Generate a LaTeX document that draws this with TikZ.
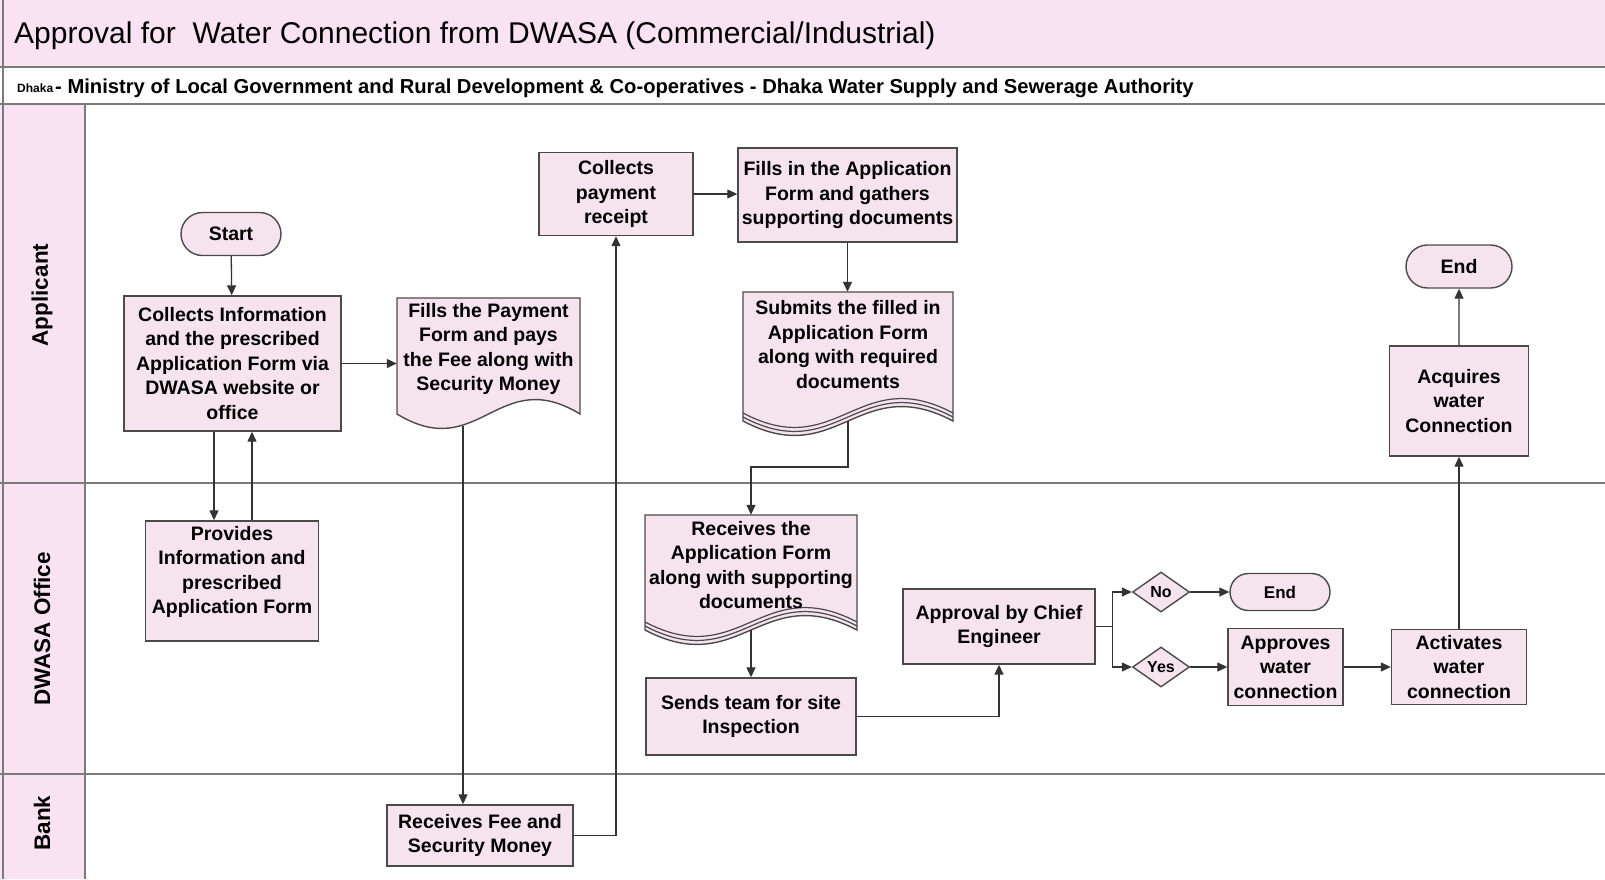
\documentclass[tikz,border=0pt]{standalone}
\usepackage{fontspec}
\setmainfont{Liberation Sans}
\usetikzlibrary{shapes.geometric,shapes.misc,arrows.meta,calc}
\definecolor{bandpink}{HTML}{F9E2F1}
\definecolor{boxpink}{HTML}{F5E4EE}
\definecolor{edgegray}{HTML}{4A4A4A}
\definecolor{lanegray}{HTML}{7A7A7A}
\definecolor{conngray}{HTML}{333333}
\begin{document}
\begin{tikzpicture}[x=1pt,y=-1pt,
  box/.style={draw=edgegray, line width=1.4pt, fill=boxpink, align=center, inner sep=0pt,
    font=\fontsize{19.5}{24.5}\selectfont\bfseries},
  term/.style={box, rounded rectangle},
  dec/.style={box, diamond, font=\fontsize{16}{18}\selectfont\bfseries},
  docshape/.style={draw=edgegray, line width=1.4pt, fill=boxpink},
  docwave/.style={draw=edgegray, line width=1.2pt},
  doctext/.style={align=center, inner sep=0pt, font=\fontsize{19.5}{24.5}\selectfont\bfseries},
  lanelabel/.style={rotate=90, font=\fontsize{22.5}{26}\selectfont\bfseries},
  laneline/.style={draw=lanegray, line width=2pt},
  conn/.style={draw=conngray, line width=1.3pt, -{Triangle[length=10pt,width=9pt]}},
]
\useasboundingbox (0,0) rectangle (1605,879);
% bands
\fill[bandpink] (0,0) rectangle (1605,67);
\fill[bandpink] (0,104) rectangle (85,879);
\draw[laneline] (0,67) -- (1605,67);
\draw[laneline] (0,104) -- (1605,104);
\draw[laneline] (0,483) -- (1605,483);
\draw[laneline] (0,774) -- (1605,774);
\draw[laneline] (85,104) -- (85,879);
\draw[laneline] (3,0) -- (3,879);
% titles
\node[anchor=base west, inner sep=0pt, font=\fontsize{30}{32}\selectfont] (title) at (14,43)
  {Approval for\ \ Water Connection from DWASA (Commercial/Industrial)};
\node[anchor=base west, inner sep=0pt, font=\fontsize{12}{13}\selectfont\bfseries] (dhaka) at (17,92) {Dhaka};
\node[anchor=base west, inner sep=0pt, font=\fontsize{20.2}{22}\selectfont\bfseries] (org) at (55,93)
  {- Ministry of Local Government and Rural Development \& Co-operatives - Dhaka Water Supply and Sewerage Authority};
% lane labels
\node[lanelabel] (lapp) at (42,295) {Applicant};
\node[lanelabel] (ldw) at (42,629) {DWASA Office};
\node[lanelabel] (lbank) at (42,823) {Bank};
% document shapes
\filldraw[docshape] (397,298) -- (580,298) -- (580,414) .. controls (498,364) and (479,464) .. (397,414) -- cycle;
\filldraw[docshape] (743,292) -- (953,292) -- (953,421) .. controls (858.5,371) and (837.5,471) .. (743,421) -- cycle;
\draw[docwave] (953,413) .. controls (858.5,363) and (837.5,463) .. (743,413);
\draw[docwave] (953,417) .. controls (858.5,367) and (837.5,467) .. (743,417);
\filldraw[docshape] (645,515) -- (857,515) -- (857,630) .. controls (761.6,580) and (740.4,680) .. (645,630) -- cycle;
\draw[docwave] (857,622) .. controls (761.6,572) and (740.4,672) .. (645,622);
\draw[docwave] (857,626) .. controls (761.6,576) and (740.4,676) .. (645,626);
% nodes
\node[term, minimum width=100, minimum height=43] (start) at (231,234) {Start};
\node[box, minimum width=217, minimum height=135] (info) at (232.5,363.5)
  {Collects Information\\and the prescribed\\Application Form via\\DWASA website or\\office};
\node[box, minimum width=173, minimum height=120,
  label={[doctext, yshift=9pt]center:{Provides\\Information and\\prescribed\\Application Form}}] (prov) at (232,581) {};
\node[doctext, minimum width=183, minimum height=102] (fp) at (488.5,349)
  {Fills the Payment\\Form and pays\\the Fee along with\\Security Money};
\node[box, minimum width=186, minimum height=61] (rfee) at (480,835.5)
  {Receives Fee and\\Security Money};
\node[box, minimum width=154, minimum height=83] (cpr) at (616,194)
  {Collects\\payment\\receipt};
\node[box, minimum width=219, minimum height=94] (fia) at (847.5,195)
  {Fills in the Application\\Form and gathers\\supporting documents};
\node[doctext, minimum width=210, minimum height=105] (sub) at (848,344.5)
  {Submits the filled in\\Application Form\\along with required\\documents};
\node[doctext, minimum width=212, minimum height=100] (ra) at (751,565)
  {Receives the\\Application Form\\along with supporting\\documents};
\node[box, minimum width=210, minimum height=77] (sends) at (751,716.5)
  {Sends team for site\\Inspection};
\node[box, minimum width=192, minimum height=75] (appr) at (999,626.5)
  {Approval by Chief\\Engineer};
\node[dec, minimum width=57, minimum height=40] (no) at (1161,592) {No};
\node[dec, minimum width=57, minimum height=40] (yes) at (1161,667) {Yes};
\node[term, minimum width=100, minimum height=37, font=\fontsize{17}{20}\selectfont\bfseries] (end2) at (1280,592) {End};
\node[box, minimum width=115, minimum height=77] (approves) at (1285.5,667)
  {Approves\\water\\connection};
\node[box, minimum width=135, minimum height=75] (activates) at (1459,667)
  {Activates\\water\\connection};
\node[box, minimum width=139, minimum height=110] (acquires) at (1459,401)
  {Acquires\\water\\Connection};
\node[term, minimum width=106, minimum height=43] (end1) at (1459,266.5) {End};
% exit points of the document shapes
\coordinate (fpout) at (463,426);
\coordinate (subout) at (848,421);
\coordinate (raout) at (751,630);
% connectors
\draw[conn] (start) -- (info);
\draw[conn] (info.east) -- (info.east -| fp.west);
\draw[conn] ([xshift=-18.5pt]info.south) -- ([xshift=-18.5pt]info.south |- prov.north);
\draw[conn] ([xshift=19.5pt]info.south |- prov.north) -- ([xshift=19.5pt]info.south);
\draw[conn] (fpout) -- (fpout |- rfee.north);
\draw[conn] (rfee.east) -| (cpr.south);
\draw[conn] (cpr.east) -- (cpr.east -| fia.west);
\draw[conn] (fia.south) -- (fia.south |- sub.north);
\draw[conn] (subout) -- ++(0,46) -| (ra.north);
\draw[conn] (raout) -- (sends.north);
\draw[conn] (sends.east) -| (appr.south);
\draw[conn] (appr.east) -- ++(17,0) |- (no.west);
\draw[conn] (appr.east) -- ++(17,0) |- (yes.west);
\draw[conn] (no) -- (end2);
\draw[conn] (yes) -- (approves);
\draw[conn] (approves) -- (activates);
\draw[conn] (activates) -- (acquires);
\draw[conn] (acquires) -- (end1);
\end{tikzpicture}
\end{document}
